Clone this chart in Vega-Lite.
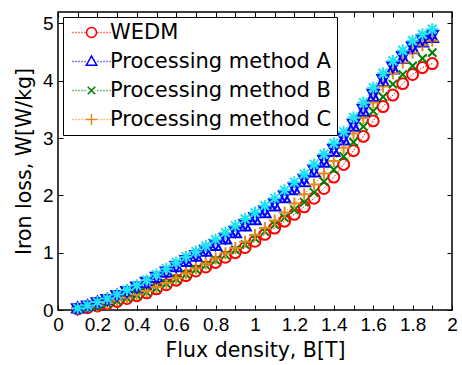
{
  "$schema": "https://vega.github.io/schema/vega-lite/v6.json",
  "width": 394,
  "height": 298,
  "autosize": {"type": "none"},
  "padding": {"left": 58, "top": 12, "right": 10, "bottom": 55},
  "background": "white",
  "config": {
    "view": {"stroke": "black", "strokeWidth": 1.5},
    "axis": {"domain": false, "grid": false, "tickColor": "black", "tickSize": -5, "tickWidth": 1, "labelColor": "black", "titleColor": "black", "labelFontSize": 19, "titleFontSize": 20.5, "titleFontWeight": "normal", "labelFont": "Liberation Sans", "titleFont": "DejaVu Sans"},
    "legend": {"labelFont": "DejaVu Sans"}
  },
  "data": {"values": [
    {"b":0.1,"w":0.02,"s":"WEDM"},{"b":0.15,"w":0.04,"s":"WEDM"},{"b":0.2,"w":0.07,"s":"WEDM"},{"b":0.25,"w":0.11,"s":"WEDM"},{"b":0.3,"w":0.15,"s":"WEDM"},{"b":0.35,"w":0.2,"s":"WEDM"},{"b":0.4,"w":0.25,"s":"WEDM"},{"b":0.45,"w":0.3,"s":"WEDM"},{"b":0.5,"w":0.37,"s":"WEDM"},{"b":0.55,"w":0.44,"s":"WEDM"},{"b":0.6,"w":0.52,"s":"WEDM"},{"b":0.65,"w":0.6,"s":"WEDM"},{"b":0.7,"w":0.68,"s":"WEDM"},{"b":0.75,"w":0.75,"s":"WEDM"},{"b":0.8,"w":0.83,"s":"WEDM"},{"b":0.85,"w":0.92,"s":"WEDM"},{"b":0.9,"w":1.0,"s":"WEDM"},{"b":0.95,"w":1.09,"s":"WEDM"},{"b":1.0,"w":1.2,"s":"WEDM"},{"b":1.05,"w":1.32,"s":"WEDM"},{"b":1.1,"w":1.43,"s":"WEDM"},{"b":1.15,"w":1.55,"s":"WEDM"},{"b":1.2,"w":1.67,"s":"WEDM"},{"b":1.25,"w":1.8,"s":"WEDM"},{"b":1.3,"w":1.95,"s":"WEDM"},{"b":1.35,"w":2.12,"s":"WEDM"},{"b":1.4,"w":2.32,"s":"WEDM"},{"b":1.45,"w":2.54,"s":"WEDM"},{"b":1.5,"w":2.78,"s":"WEDM"},{"b":1.55,"w":3.03,"s":"WEDM"},{"b":1.6,"w":3.3,"s":"WEDM"},{"b":1.65,"w":3.55,"s":"WEDM"},{"b":1.7,"w":3.75,"s":"WEDM"},{"b":1.75,"w":3.95,"s":"WEDM"},{"b":1.8,"w":4.11,"s":"WEDM"},{"b":1.85,"w":4.23,"s":"WEDM"},{"b":1.9,"w":4.3,"s":"WEDM"},

    {"b":0.1,"w":0.03,"s":"Processing method A"},{"b":0.15,"w":0.07,"s":"Processing method A"},{"b":0.2,"w":0.13,"s":"Processing method A"},{"b":0.25,"w":0.18,"s":"Processing method A"},{"b":0.3,"w":0.25,"s":"Processing method A"},{"b":0.35,"w":0.32,"s":"Processing method A"},{"b":0.4,"w":0.39,"s":"Processing method A"},{"b":0.45,"w":0.47,"s":"Processing method A"},{"b":0.5,"w":0.56,"s":"Processing method A"},{"b":0.55,"w":0.65,"s":"Processing method A"},{"b":0.6,"w":0.75,"s":"Processing method A"},{"b":0.65,"w":0.84,"s":"Processing method A"},{"b":0.7,"w":0.93,"s":"Processing method A"},{"b":0.75,"w":1.02,"s":"Processing method A"},{"b":0.8,"w":1.12,"s":"Processing method A"},{"b":0.85,"w":1.23,"s":"Processing method A"},{"b":0.9,"w":1.34,"s":"Processing method A"},{"b":0.95,"w":1.46,"s":"Processing method A"},{"b":1.0,"w":1.57,"s":"Processing method A"},{"b":1.05,"w":1.69,"s":"Processing method A"},{"b":1.1,"w":1.81,"s":"Processing method A"},{"b":1.15,"w":1.95,"s":"Processing method A"},{"b":1.2,"w":2.09,"s":"Processing method A"},{"b":1.25,"w":2.23,"s":"Processing method A"},{"b":1.3,"w":2.4,"s":"Processing method A"},{"b":1.35,"w":2.57,"s":"Processing method A"},{"b":1.4,"w":2.76,"s":"Processing method A"},{"b":1.45,"w":2.96,"s":"Processing method A"},{"b":1.5,"w":3.2,"s":"Processing method A"},{"b":1.55,"w":3.46,"s":"Processing method A"},{"b":1.6,"w":3.72,"s":"Processing method A"},{"b":1.65,"w":3.98,"s":"Processing method A"},{"b":1.7,"w":4.2,"s":"Processing method A"},{"b":1.75,"w":4.38,"s":"Processing method A"},{"b":1.8,"w":4.55,"s":"Processing method A"},{"b":1.85,"w":4.67,"s":"Processing method A"},{"b":1.9,"w":4.75,"s":"Processing method A"},

    {"b":0.1,"w":0.02,"s":"Processing method B"},{"b":0.15,"w":0.04,"s":"Processing method B"},{"b":0.2,"w":0.07,"s":"Processing method B"},{"b":0.25,"w":0.11,"s":"Processing method B"},{"b":0.3,"w":0.16,"s":"Processing method B"},{"b":0.35,"w":0.21,"s":"Processing method B"},{"b":0.4,"w":0.26,"s":"Processing method B"},{"b":0.45,"w":0.31,"s":"Processing method B"},{"b":0.5,"w":0.38,"s":"Processing method B"},{"b":0.55,"w":0.46,"s":"Processing method B"},{"b":0.6,"w":0.54,"s":"Processing method B"},{"b":0.65,"w":0.62,"s":"Processing method B"},{"b":0.7,"w":0.71,"s":"Processing method B"},{"b":0.75,"w":0.78,"s":"Processing method B"},{"b":0.8,"w":0.87,"s":"Processing method B"},{"b":0.85,"w":0.96,"s":"Processing method B"},{"b":0.9,"w":1.05,"s":"Processing method B"},{"b":0.95,"w":1.14,"s":"Processing method B"},{"b":1.0,"w":1.25,"s":"Processing method B"},{"b":1.05,"w":1.37,"s":"Processing method B"},{"b":1.1,"w":1.49,"s":"Processing method B"},{"b":1.15,"w":1.61,"s":"Processing method B"},{"b":1.2,"w":1.75,"s":"Processing method B"},{"b":1.25,"w":1.88,"s":"Processing method B"},{"b":1.3,"w":2.05,"s":"Processing method B"},{"b":1.35,"w":2.24,"s":"Processing method B"},{"b":1.4,"w":2.45,"s":"Processing method B"},{"b":1.45,"w":2.68,"s":"Processing method B"},{"b":1.5,"w":2.93,"s":"Processing method B"},{"b":1.55,"w":3.2,"s":"Processing method B"},{"b":1.6,"w":3.47,"s":"Processing method B"},{"b":1.65,"w":3.72,"s":"Processing method B"},{"b":1.7,"w":3.94,"s":"Processing method B"},{"b":1.75,"w":4.11,"s":"Processing method B"},{"b":1.8,"w":4.26,"s":"Processing method B"},{"b":1.85,"w":4.39,"s":"Processing method B"},{"b":1.9,"w":4.49,"s":"Processing method B"},

    {"b":0.1,"w":0.02,"s":"Processing method C"},{"b":0.15,"w":0.05,"s":"Processing method C"},{"b":0.2,"w":0.08,"s":"Processing method C"},{"b":0.25,"w":0.12,"s":"Processing method C"},{"b":0.3,"w":0.17,"s":"Processing method C"},{"b":0.35,"w":0.22,"s":"Processing method C"},{"b":0.4,"w":0.27,"s":"Processing method C"},{"b":0.45,"w":0.33,"s":"Processing method C"},{"b":0.5,"w":0.4,"s":"Processing method C"},{"b":0.55,"w":0.47,"s":"Processing method C"},{"b":0.6,"w":0.56,"s":"Processing method C"},{"b":0.65,"w":0.64,"s":"Processing method C"},{"b":0.7,"w":0.73,"s":"Processing method C"},{"b":0.75,"w":0.81,"s":"Processing method C"},{"b":0.8,"w":0.9,"s":"Processing method C"},{"b":0.85,"w":0.99,"s":"Processing method C"},{"b":0.9,"w":1.08,"s":"Processing method C"},{"b":0.95,"w":1.19,"s":"Processing method C"},{"b":1.0,"w":1.31,"s":"Processing method C"},{"b":1.05,"w":1.43,"s":"Processing method C"},{"b":1.1,"w":1.56,"s":"Processing method C"},{"b":1.15,"w":1.7,"s":"Processing method C"},{"b":1.2,"w":1.86,"s":"Processing method C"},{"b":1.25,"w":2.02,"s":"Processing method C"},{"b":1.3,"w":2.19,"s":"Processing method C"},{"b":1.35,"w":2.38,"s":"Processing method C"},{"b":1.4,"w":2.6,"s":"Processing method C"},{"b":1.45,"w":2.83,"s":"Processing method C"},{"b":1.5,"w":3.08,"s":"Processing method C"},{"b":1.55,"w":3.35,"s":"Processing method C"},{"b":1.6,"w":3.62,"s":"Processing method C"},{"b":1.65,"w":3.9,"s":"Processing method C"},{"b":1.7,"w":4.13,"s":"Processing method C"},{"b":1.75,"w":4.32,"s":"Processing method C"},{"b":1.8,"w":4.49,"s":"Processing method C"},{"b":1.85,"w":4.62,"s":"Processing method C"},{"b":1.9,"w":4.7,"s":"Processing method C"},

    {"b":0.1,"w":0.03,"s":"Processing method D"},{"b":0.15,"w":0.075,"s":"Processing method D"},{"b":0.2,"w":0.135,"s":"Processing method D"},{"b":0.25,"w":0.19,"s":"Processing method D"},{"b":0.3,"w":0.26,"s":"Processing method D"},{"b":0.35,"w":0.33,"s":"Processing method D"},{"b":0.4,"w":0.41,"s":"Processing method D"},{"b":0.45,"w":0.49,"s":"Processing method D"},{"b":0.5,"w":0.58,"s":"Processing method D"},{"b":0.55,"w":0.67,"s":"Processing method D"},{"b":0.6,"w":0.77,"s":"Processing method D"},{"b":0.65,"w":0.87,"s":"Processing method D"},{"b":0.7,"w":0.96,"s":"Processing method D"},{"b":0.75,"w":1.05,"s":"Processing method D"},{"b":0.8,"w":1.15,"s":"Processing method D"},{"b":0.85,"w":1.26,"s":"Processing method D"},{"b":0.9,"w":1.38,"s":"Processing method D"},{"b":0.95,"w":1.5,"s":"Processing method D"},{"b":1.0,"w":1.62,"s":"Processing method D"},{"b":1.05,"w":1.74,"s":"Processing method D"},{"b":1.1,"w":1.86,"s":"Processing method D"},{"b":1.15,"w":2.0,"s":"Processing method D"},{"b":1.2,"w":2.14,"s":"Processing method D"},{"b":1.25,"w":2.29,"s":"Processing method D"},{"b":1.3,"w":2.45,"s":"Processing method D"},{"b":1.35,"w":2.62,"s":"Processing method D"},{"b":1.4,"w":2.81,"s":"Processing method D"},{"b":1.45,"w":3.01,"s":"Processing method D"},{"b":1.5,"w":3.25,"s":"Processing method D"},{"b":1.55,"w":3.51,"s":"Processing method D"},{"b":1.6,"w":3.77,"s":"Processing method D"},{"b":1.65,"w":4.03,"s":"Processing method D"},{"b":1.7,"w":4.25,"s":"Processing method D"},{"b":1.75,"w":4.43,"s":"Processing method D"},{"b":1.8,"w":4.6,"s":"Processing method D"},{"b":1.85,"w":4.72,"s":"Processing method D"},{"b":1.9,"w":4.8,"s":"Processing method D"},

    {"b":0.1,"w":0.03,"s":"Processing method E"},{"b":0.15,"w":0.08,"s":"Processing method E"},{"b":0.2,"w":0.14,"s":"Processing method E"},{"b":0.25,"w":0.2,"s":"Processing method E"},{"b":0.3,"w":0.27,"s":"Processing method E"},{"b":0.35,"w":0.35,"s":"Processing method E"},{"b":0.4,"w":0.43,"s":"Processing method E"},{"b":0.45,"w":0.52,"s":"Processing method E"},{"b":0.5,"w":0.62,"s":"Processing method E"},{"b":0.55,"w":0.72,"s":"Processing method E"},{"b":0.6,"w":0.83,"s":"Processing method E"},{"b":0.65,"w":0.93,"s":"Processing method E"},{"b":0.7,"w":1.02,"s":"Processing method E"},{"b":0.75,"w":1.12,"s":"Processing method E"},{"b":0.8,"w":1.23,"s":"Processing method E"},{"b":0.85,"w":1.35,"s":"Processing method E"},{"b":0.9,"w":1.47,"s":"Processing method E"},{"b":0.95,"w":1.59,"s":"Processing method E"},{"b":1.0,"w":1.7,"s":"Processing method E"},{"b":1.05,"w":1.82,"s":"Processing method E"},{"b":1.1,"w":1.95,"s":"Processing method E"},{"b":1.15,"w":2.09,"s":"Processing method E"},{"b":1.2,"w":2.23,"s":"Processing method E"},{"b":1.25,"w":2.37,"s":"Processing method E"},{"b":1.3,"w":2.54,"s":"Processing method E"},{"b":1.35,"w":2.72,"s":"Processing method E"},{"b":1.4,"w":2.91,"s":"Processing method E"},{"b":1.45,"w":3.11,"s":"Processing method E"},{"b":1.5,"w":3.36,"s":"Processing method E"},{"b":1.55,"w":3.62,"s":"Processing method E"},{"b":1.6,"w":3.88,"s":"Processing method E"},{"b":1.65,"w":4.13,"s":"Processing method E"},{"b":1.7,"w":4.35,"s":"Processing method E"},{"b":1.75,"w":4.53,"s":"Processing method E"},{"b":1.8,"w":4.7,"s":"Processing method E"},{"b":1.85,"w":4.81,"s":"Processing method E"},{"b":1.9,"w":4.9,"s":"Processing method E"}
  ]},
  "resolve": {"axis": {"x": "independent", "y": "independent"}},
  "layer": [
    {
      "mark": {"type": "line", "strokeWidth": 1, "strokeDash": [1.5, 1.5]},
      "encoding": {
        "x": {"field": "b", "type": "quantitative", "scale": {"domain": [0, 2], "nice": false},
          "axis": {"orient": "bottom", "title": "Flux density, B[T]", "values": [0,0.1,0.2,0.3,0.4,0.5,0.6,0.7,0.8,0.9,1,1.1,1.2,1.3,1.4,1.5,1.6,1.7,1.8,1.9,2],
            "labelExpr": "round(datum.value*10) % 2 == 0 ? datum.label : ''", "format": "~g", "labelPadding": 10, "titlePadding": 6, "labelFlush": false, "labelOverlap": false}},
        "y": {"field": "w", "type": "quantitative", "scale": {"domain": [0, 5.2], "nice": false},
          "axis": {"orient": "left", "title": "Iron loss, W[W/kg]", "values": [0,1,2,3,4,5], "labelPadding": 10, "titlePadding": 8, "labelFlush": false}},
        "color": {"field": "s", "type": "nominal",
          "scale": {"domain": ["WEDM","Processing method A","Processing method B","Processing method C","Processing method D","Processing method E"],
            "range": ["#FF0000","#0000FF","#008000","#E08A1E","#0000FF","#1EE3F2"]}},
        "detail": {"field": "s", "type": "nominal"}
      }
    },
    {
      "mark": {"type": "point", "filled": false, "strokeWidth": 2, "size": 120, "opacity": 1},
      "encoding": {
        "x": {"field": "b", "type": "quantitative", "axis": {"orient": "top", "title": null, "labels": false, "values": [0,0.1,0.2,0.3,0.4,0.5,0.6,0.7,0.8,0.9,1,1.1,1.2,1.3,1.4,1.5,1.6,1.7,1.8,1.9,2]}},
        "y": {"field": "w", "type": "quantitative", "axis": {"orient": "right", "title": null, "labels": false, "values": [0,1,2,3,4,5]}},
        "color": {"field": "s", "type": "nominal",
          "scale": {"domain": ["WEDM","Processing method A","Processing method B","Processing method C","Processing method D","Processing method E"],
            "range": ["#FF0000","#0000FF","#008000","#E08A1E","#0000FF","#1EE3F2"]},
          "legend": {"title": null, "orient": "top-left", "offset": 5, "padding": 5, "strokeColor": "black", "fillColor": "white",
            "values": ["WEDM","Processing method A","Processing method B","Processing method C"],
            "labelFontSize": 21, "labelColor": "black", "labelLimit": 400, "rowPadding": 7, "symbolSize": 100, "symbolStrokeWidth": 1.5,
            "symbolOffset": 13, "labelOffset": 8,
            "encoding": {"symbols": {"fill": {"value": "transparent"}, "strokeDash": {"value": [1, 0]}, "strokeWidth": {"value": 1.5}, "opacity": {"value": 1}, "size": {"value": 100}, "shape": {"value": {"expr": "datum.value === 'WEDM' ? 'M-3.8,0h0.2M-3.2,0h0.2M-2.6,0h0.2M-2,0h0.2M-1.4,0h0.2M1.2,0h0.2M1.8,0h0.2M2.4,0h0.2M3,0h0.2M3.6,0h0.2M1,0L0.924,0.383L0.707,0.707L0.383,0.924L0,1L-0.383,0.924L-0.707,0.707L-0.924,0.383L-1,0L-0.924,-0.383L-0.707,-0.707L-0.383,-0.924L0,-1L0.383,-0.924L0.707,-0.707L0.924,-0.383Z' : datum.value === 'Processing method A' ? 'M-3.8,0h0.2M-3.2,0h0.2M-2.6,0h0.2M-2,0h0.2M-1.4,0h0.2M1.2,0h0.2M1.8,0h0.2M2.4,0h0.2M3,0h0.2M3.6,0h0.2M0,-1.1L1.05,0.75L-1.05,0.75Z' : datum.value === 'Processing method B' ? 'M-3.8,0h0.2M-3.2,0h0.2M-2.6,0h0.2M-2,0h0.2M-1.4,0h0.2M1.2,0h0.2M1.8,0h0.2M2.4,0h0.2M3,0h0.2M3.6,0h0.2M-0.75,-0.75L0.75,0.75M-0.75,0.75L0.75,-0.75' : 'M-3.8,0h0.2M-3.2,0h0.2M-2.6,0h0.2M-2,0h0.2M-1.4,0h0.2M1.2,0h0.2M1.8,0h0.2M2.4,0h0.2M3,0h0.2M3.6,0h0.2M-1.1,0L1.1,0M0,-1.1L0,1.1'"}}}}}},
        "shape": {"field": "s", "type": "nominal", "legend": null,
          "scale": {"domain": ["Processing method E","Processing method D","Processing method C","Processing method B","Processing method A","WEDM"],
            "range": ["M0,-1.1L0,1.1M-1.1,0L1.1,0M-0.8,-0.8L0.8,0.8M-0.8,0.8L0.8,-0.8", "M0,1.1L1.05,-0.75L-1.05,-0.75Z", "M-1.1,0L1.1,0M0,-1.1L0,1.1", "M-0.75,-0.75L0.75,0.75M-0.75,0.75L0.75,-0.75", "M0,-1.1L1.05,0.75L-1.05,0.75Z", "circle"]}}
      }
    }
  ]
}
